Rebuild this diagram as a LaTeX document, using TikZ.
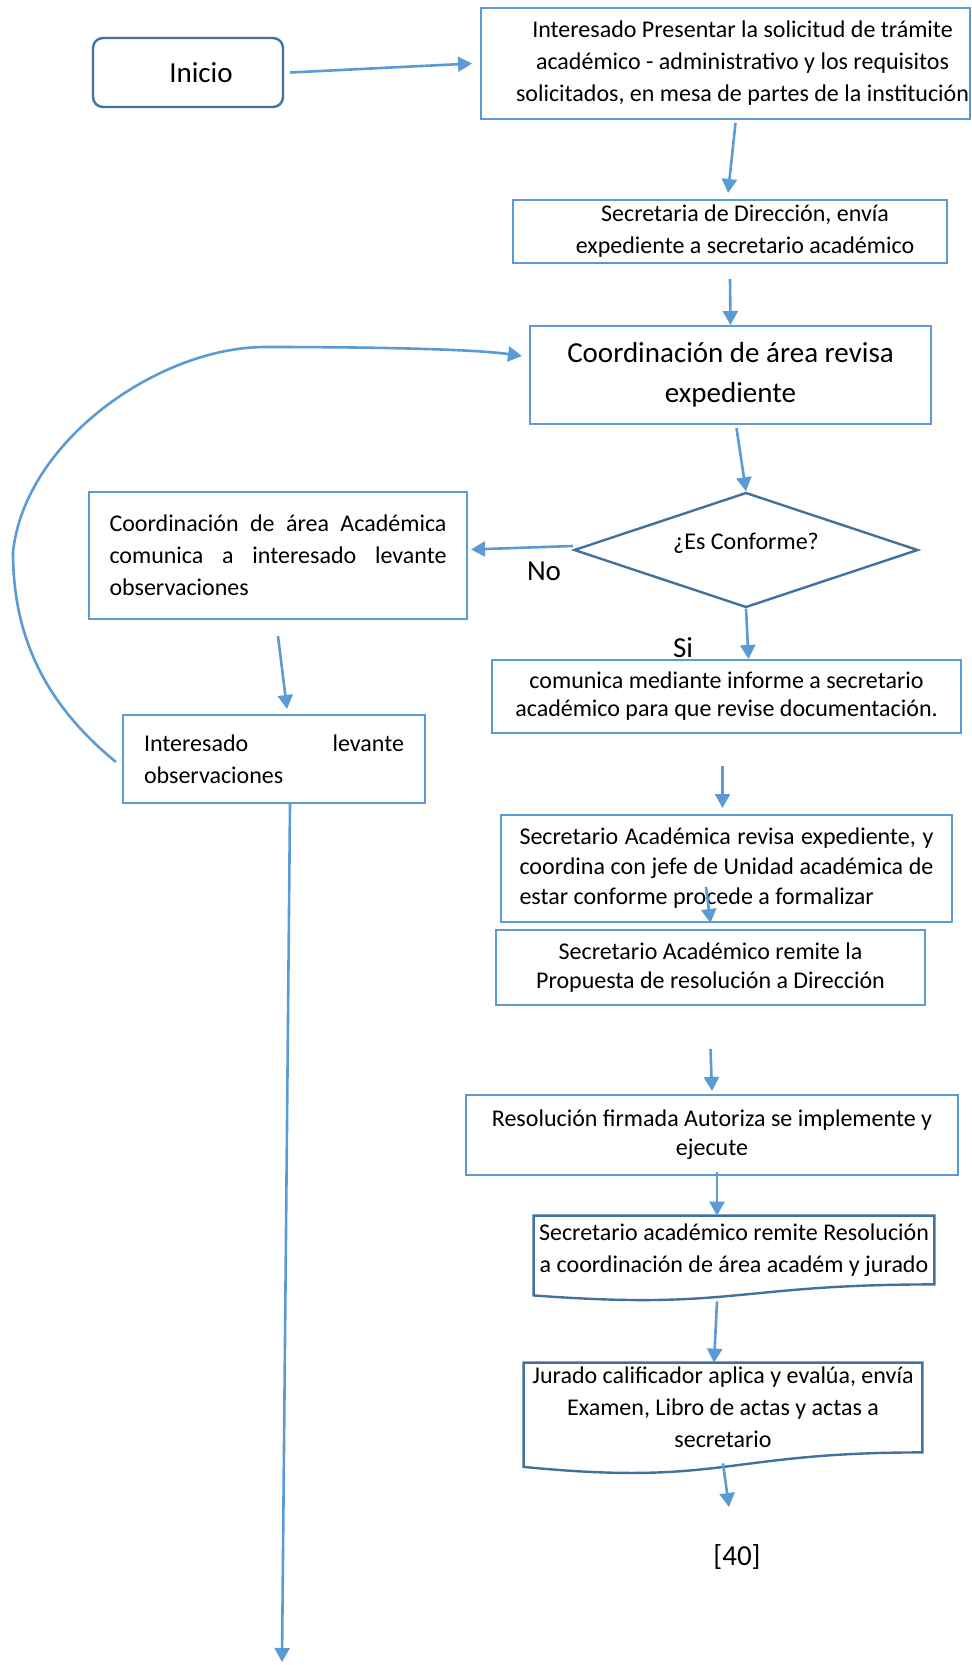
\documentclass[tikz,border=0pt]{standalone}
\usepackage{fontspec}
\setmainfont{Carlito}
\usetikzlibrary{arrows.meta,shapes.geometric,calc}
\definecolor{boxblue}{HTML}{5B9BD5}
\definecolor{edgeblue}{HTML}{41719C}

\begin{document}
\begin{tikzpicture}[x=0.5pt,y=-0.5pt,
  proc/.style={draw=boxblue,line width=1pt,rectangle,align=center,inner sep=0pt,font=\fontsize{12}{16}\selectfont},
  startbox/.style={draw=edgeblue,line width=1.2pt,rectangle,rounded corners=5pt,font=\fontsize{14.5}{18}\selectfont},
  choice/.style={draw=edgeblue,line width=1.2pt,diamond,aspect=3,inner sep=0pt,font=\fontsize{12}{16}\selectfont},
  docbox/.style={rectangle,align=center,inner sep=0pt,font=\fontsize{12}{16}\selectfont},
  docline/.style={draw=edgeblue,line width=1.2pt},
  flow/.style={draw=boxblue,line width=1.3pt,-{Triangle[length=7pt,width=7.5pt]}},
  tag/.style={font=\fontsize{14.5}{18}\selectfont}]
\useasboundingbox (0,0) rectangle (972,1665);
\node[startbox,minimum width=95pt,minimum height=34.5pt] (inicio) at (188,72.5) {\hspace*{13pt}Inicio};
\node[proc,minimum width=244.5pt,minimum height=55.5pt] (sol) at (725.5,63.5) {\hspace*{17pt}Interesado Presentar la solicitud de trámite\\\hspace*{17pt}académico - administrativo y los requisitos\\\hspace*{17pt}solicitados, en mesa de partes de la institución};
\node[proc,minimum width=217pt,minimum height=31.5pt] (secdir) at (730,231.5) {\hspace*{15pt}Secretaria de Dirección, envía\\\hspace*{15pt}expediente a secretario académico};
\node[proc,minimum width=200.5pt,minimum height=49pt,font=\fontsize{14.5}{20}\selectfont] (revisa) at (730.5,375) {Coordinación de área revisa\\expediente};
\node[choice,minimum width=172pt,minimum height=57.5pt] (conf) at (746,550) {\raisebox{8.5pt}{¿Es Conforme?}};
\node[proc,minimum width=189pt,minimum height=63.5pt,text width=168.5pt,align=justify] (obs) at (278,555.5) {Coordinación de área Académica\linebreak comunica a interesado levante\linebreak observaciones};
\node[proc,minimum width=151pt,minimum height=44pt,text width=130pt,align=justify] (lev) at (274,759) {\leftskip=15pt Interesado levante\linebreak observaciones};
\node[proc,minimum width=234.5pt,minimum height=36.5pt,font=\fontsize{12}{14}\selectfont] (inf) at (726.5,696.5) {comunica mediante informe a secretario\\académico para que revise documentación.};
\node[proc,minimum width=225.5pt,minimum height=53.5pt,text width=207pt,align=justify,font=\fontsize{12}{15}\selectfont] (sacad) at (726.5,868.5) {Secretario Académica revisa expediente, y\linebreak coordina con jefe de Unidad académica de\linebreak estar conforme procede a formalizar};
\node[proc,minimum width=214.5pt,minimum height=37.5pt,font=\fontsize{12}{14.5}\selectfont] (remite) at (710.5,967.5) {Secretario Académico remite la\\Propuesta de resolución a Dirección};
\node[proc,minimum width=246pt,minimum height=40pt,font=\fontsize{12}{14.5}\selectfont] (firma) at (712,1135) {Resolución firmada Autoriza se implemente y\\ejecute};
\node[docbox,minimum width=200pt,minimum height=34pt] (resol) at (734,1250) {Secretario académico remite Resolución\\a coordinación de área académ y jurado};
\node[docbox,minimum width=199pt,minimum height=44.5pt] (jurado) at (723,1407.5) {Jurado calificador aplica y evalúa, envía\\Examen, Libro de actas y actas a\\secretario};
\draw[docline] (resol.north west) -- (resol.north east) -- (resol.south east) .. controls (resol.south) and ($(resol.south)+(0,26)$) .. ($(resol.south west)+(0,11)$) -- cycle;
\draw[docline] (jurado.north west) -- (jurado.north east) -- (jurado.south east) .. controls (jurado.south) and ($(jurado.south)+(0,34)$) .. ($(jurado.south west)+(0,14.5)$) -- cycle;
\node[tag] (no) at (544,571) {No};
\node[tag] (si) at (683,648) {Si};
\node[tag] (pag) at (737,1557) {[40]};
\coordinate (fin) at (282,1662);
\coordinate (sal) at (729,1507);
\draw[flow] ([xshift=3pt]inicio.east) -- ([xshift=-4pt]sol.west);
\draw[flow] ([xshift=5pt,yshift=-1.5pt]sol.south) -- ([xshift=-1pt,yshift=3pt]secdir.north);
\draw[flow] ([yshift=-7.5pt]secdir.south) -- (revisa.north);
\draw[flow] ([xshift=3pt,yshift=-1.5pt]revisa.south) -- (conf.north);
\draw[flow] ([yshift=2pt]conf.west) -- ([xshift=1.5pt,yshift=3pt]obs.east);
\draw[flow] ([yshift=-8pt]obs.south) -- ([xshift=6.5pt,yshift=2.5pt]lev.north);
\draw[flow] (conf.south) -- ([xshift=11pt]inf.north);
\draw[flow] ([xshift=-2pt,yshift=-16pt]inf.south) -- ([xshift=-2pt,yshift=3pt]sacad.north);
\draw[flow] ([xshift=-10.25pt,yshift=-9.25pt]sacad.center) -- ([yshift=3pt]remite.north);
\draw[flow] ([yshift=-21.5pt]remite.south) -- ([yshift=1.5pt]firma.north);
\draw[flow] ([xshift=2.5pt,yshift=2pt]firma.south) -- ([xshift=-8.5pt]resol.north);
\draw[flow] ([xshift=-8.5pt,yshift=-8.5pt]resol.south) -- ([xshift=-4.5pt]jurado.north);
\draw[flow] ([yshift=-5.5pt]jurado.south) -- (sal);
\draw[flow] ([xshift=-3pt,yshift=-1.5pt]lev.west) .. controls (40,700) and (13,630) .. (13,552) .. controls (25,440) and (160,347) .. (265,347) .. controls (400,347) and (480,350) .. ([xshift=-3.5pt,yshift=9.5pt]revisa.west);
\draw[flow] ([xshift=8pt]lev.south) -- (fin);
\end{tikzpicture}
\end{document}
